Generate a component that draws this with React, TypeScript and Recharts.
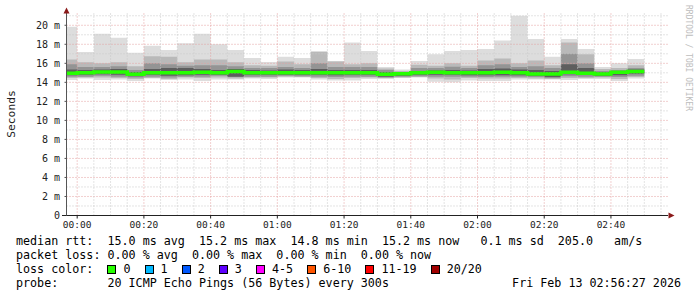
import React from 'react';
import { ComposedChart, Area, Line, XAxis, YAxis, ReferenceLine } from 'recharts';

// start of each 5 minute step (minutes after 00:00); the last entry only closes the last step
const stepMinutes = [-5, 0, 5, 10, 15, 20, 25, 30, 35, 40, 45, 50, 55, 60, 65, 70, 75, 80, 85, 90, 95, 100, 105, 110, 115, 120, 125, 130, 135, 140, 145, 150, 155, 160, 165, 170];

// rtt in ms, one value per step
const medianRtt = [14.95, 15.0, 15.1, 15.1, 14.85, 15.0, 15.0, 15.0, 15.05, 15.0, 15.15, 15.0, 15.0, 15.0, 15.0, 15.0, 15.0, 15.0, 15.0, 14.85, 14.9, 15.0, 15.05, 15.0, 15.0, 15.0, 15.05, 15.0, 14.87, 14.87, 15.05, 14.95, 14.87, 15.05, 15.15];
const maxRtt = [19.85, 17.2, 19.1, 18.7, 17.1, 17.85, 17.4, 18.1, 19.1, 18.0, 17.4, 16.55, 16.15, 16.7, 16.55, 17.3, 16.25, 18.2, 17.3, 15.6, 15.35, 16.25, 16.95, 17.3, 17.4, 17.5, 18.4, 21.0, 18.55, 16.7, 18.55, 17.5, 15.6, 16.0, 16.45];
const minRtt = [14.25, 14.4, 14.25, 14.3, 14.15, 14.4, 14.25, 14.3, 14.15, 14.3, 14.3, 14.4, 14.35, 14.5, 14.5, 14.3, 14.2, 14.2, 14.35, 14.35, 14.45, 14.5, 14.05, 14.0, 14.2, 14.15, 14.15, 14.3, 14.3, 14.3, 14.25, 14.35, 14.35, 14.15, 14.4];
// inner smoke bands, outer to inner
const upper2 = [16.4, 16.1, 16.0, 16.1, 15.7, 16.75, 16.7, 16.1, 16.4, 16.4, 16.1, 15.8, 15.75, 16.2, 15.9, 17.2, 16.2, 15.9, 16.0, 15.45, 15.2, 15.85, 15.75, 16.0, 15.75, 16.3, 16.5, 16.0, 16.3, 15.8, 18.2, 16.95, 15.4, 15.5, 15.8];
const lower2 = [14.45, 14.5, 14.5, 14.45, 14.35, 14.45, 14.35, 14.5, 14.45, 14.5, 14.4, 14.5, 14.5, 14.6, 14.55, 14.45, 14.35, 14.45, 14.5, 14.45, 14.5, 14.55, 14.4, 14.3, 14.45, 14.4, 14.4, 14.45, 14.4, 14.35, 14.45, 14.45, 14.5, 14.35, 14.55];
const upper3 = [15.9, 15.6, 15.6, 15.7, 15.3, 16.0, 15.9, 15.75, 15.8, 15.8, 15.7, 15.5, 15.5, 15.6, 15.5, 16.0, 15.6, 15.6, 15.6, 15.3, 15.05, 15.5, 15.5, 15.65, 15.5, 15.8, 15.9, 15.6, 15.7, 15.5, 17.0, 16.0, 15.2, 15.3, 15.5];
const lower3 = [14.6, 14.6, 14.7, 14.6, 14.5, 14.6, 14.5, 14.6, 14.6, 14.7, 14.6, 14.6, 14.6, 14.7, 14.65, 14.6, 14.55, 14.6, 14.6, 14.5, 14.6, 14.65, 14.6, 14.6, 14.6, 14.55, 14.6, 14.6, 14.55, 14.45, 14.65, 14.6, 14.6, 14.55, 14.7];
const upper4 = [15.35, 15.3, 15.35, 15.4, 15.1, 15.4, 15.5, 15.5, 15.4, 15.3, 15.4, 15.3, 15.25, 15.35, 15.3, 15.4, 15.3, 15.3, 15.3, 15.1, 15.0, 15.2, 15.25, 15.3, 15.25, 15.4, 15.45, 15.35, 15.3, 15.2, 15.9, 15.5, 15.05, 15.2, 15.35];
const lower4 = [14.75, 14.8, 14.85, 14.8, 14.65, 14.8, 14.7, 14.75, 14.8, 14.8, 14.6, 14.8, 14.8, 14.8, 14.8, 14.8, 14.75, 14.8, 14.8, 14.6, 14.7, 14.8, 14.8, 14.8, 14.75, 14.75, 14.75, 14.75, 14.7, 14.55, 14.85, 14.8, 14.7, 14.75, 14.9];

const xTickMinutes = [0, 20, 40, 60, 80, 100, 120, 140, 160];
const xTickLabels = ['00:00', '00:20', '00:40', '01:00', '01:20', '01:40', '02:00', '02:20', '02:40'];
const yTickValues = [0, 2, 4, 6, 8, 10, 12, 14, 16, 18, 20];
const yTickLabels = ['0', '2 m', '4 m', '6 m', '8 m', '10 m', '12 m', '14 m', '16 m', '18 m', '20 m'];

const statsLine = 'median rtt:  15.0 ms avg  15.2 ms max  14.8 ms min  15.2 ms now   0.1 ms sd  205.0   am/s';
const lossLine = 'packet loss: 0.00 % avg  0.00 % max  0.00 % min  0.00 % now';
const lossLabels = ['0', '1', '2', '3', '4-5', '6-10', '11-19', '20/20'];
const lossColors = ['#26ff00', '#00b8ff', '#0059ff', '#5e00ff', '#ff00ff', '#ff5500', '#ff0000', '#a10000'];
const probeLine = 'probe:       20 ICMP Echo Pings (56 Bytes) every 300s';
const stampText = 'Fri Feb 13 02:56:27 2026';

const rows = stepMinutes.map((t, i) => {
  const k = Math.min(i, medianRtt.length - 1);
  return {
    t,
    median: medianRtt[k],
    outer: [minRtt[k], maxRtt[k]],
    band2: [lower2[k], upper2[k]],
    band3: [lower3[k], upper3[k]],
    band4: [lower4[k], upper4[k]],
  };
});

const mono = '"DejaVu Sans Mono", monospace';
const minorGridX = Array.from({ length: 36 }, (_, i) => i * 5).filter((m) => m % 20 !== 0);
const minorGridY = Array.from({ length: 11 }, (_, i) => i * 2 + 1);
const majorGridY = yTickValues.filter((v) => v > 0);

export default function App() {
  return (
    <div style={{ position: 'absolute', left: 0, top: 0, width: 697, height: 297, background: '#fff' }}>
      <ComposedChart
        width={697}
        height={240}
        data={rows}
        margin={{ top: 13, right: 29, bottom: 4.5, left: 6.5 }}
      >
        <XAxis
          dataKey="t"
          type="number"
          domain={[-3.2, 177.1]}
          allowDataOverflow
          ticks={xTickMinutes}
          tickFormatter={(v) => xTickLabels[xTickMinutes.indexOf(v)] ?? ''}
          height={20}
          tickSize={3}
          tickMargin={3}
          axisLine={{ stroke: '#222' }}
          tickLine={{ stroke: '#222' }}
          tick={{ fontFamily: mono, fontSize: 9.5, fill: '#222' }}
        />
        <YAxis
          type="number"
          domain={[0, 21.29]}
          allowDataOverflow
          ticks={yTickValues}
          tickFormatter={(v) => yTickLabels[yTickValues.indexOf(v)] ?? ''}
          width={60}
          tickSize={2}
          tickMargin={4.5}
          axisLine={{ stroke: '#555' }}
          tickLine={{ stroke: '#555' }}
          tick={{ fontFamily: mono, fontSize: 10, fill: '#222' }}
        />
        <Area type="stepAfter" dataKey="outer" fill="#dddddd" fillOpacity={1} stroke="none" dot={false} activeDot={false} isAnimationActive={false} />
        <Area type="stepAfter" dataKey="band2" fill="#b9b9b9" fillOpacity={1} stroke="none" dot={false} activeDot={false} isAnimationActive={false} />
        <Area type="stepAfter" dataKey="band3" fill="#949494" fillOpacity={1} stroke="none" dot={false} activeDot={false} isAnimationActive={false} />
        <Area type="stepAfter" dataKey="band4" fill="#5e5e5e" fillOpacity={1} stroke="none" dot={false} activeDot={false} isAnimationActive={false} />
        {minorGridY.map((v) => (
          <ReferenceLine key={`my${v}`} y={v} stroke="#c8c8c8" strokeDasharray="1 2" />
        ))}
        {majorGridY.map((v) => (
          <ReferenceLine key={`My${v}`} y={v} stroke="#e4a0a0" strokeDasharray="1 2" />
        ))}
        {minorGridX.map((v) => (
          <ReferenceLine key={`mx${v}`} x={v} stroke="#c8c8c8" strokeDasharray="1 2" />
        ))}
        {xTickMinutes.map((v) => (
          <ReferenceLine key={`Mx${v}`} x={v} stroke="#e4a0a0" strokeDasharray="1 2" />
        ))}
        <Line type="stepAfter" dataKey="median" stroke="#26ff00" strokeWidth={3.5} dot={false} activeDot={false} isAnimationActive={false} />
      </ComposedChart>

      <svg width={697} height={297} style={{ position: 'absolute', left: 0, top: 0, pointerEvents: 'none' }}>
        <line x1={62} y1={215.5} x2={66.5} y2={215.5} stroke="#222" />
        <polygon points="63.5,13.5 69.5,13.5 66.5,7.5" fill="#8b1a1a" />
        <polygon points="668.5,212.5 668.5,218.5 674.5,215.5" fill="#8b1a1a" />
        <text
          transform="translate(15,114) rotate(-90)"
          textAnchor="middle"
          fontFamily={mono}
          fontSize={11.3}
          fill="#222"
        >
          Seconds
        </text>
        <text
          transform="translate(685.5,5) rotate(90)"
          fontFamily={mono}
          fontSize={8}
          fill="#bdbdbd"
        >
          RRDTOOL / TOBI OETIKER
        </text>
      </svg>

      <div
        style={{
          position: 'absolute',
          left: 16,
          top: 234,
          width: 665,
          fontFamily: mono,
          fontSize: 11.7,
          lineHeight: '14px',
          whiteSpace: 'pre',
          color: '#000',
        }}
      >
        <div>{statsLine}</div>
        <div>{lossLine}</div>
        <div style={{ display: 'flex', alignItems: 'center' }}>
          <span>{'loss color:  '}</span>
          {lossLabels.map((label, i) => (
            <span key={label} style={{ display: 'inline-flex', alignItems: 'center' }}>
              <span
                style={{
                  display: 'inline-block',
                  width: 9,
                  height: 9,
                  boxSizing: 'border-box',
                  border: '1px solid #000',
                  background: lossColors[i],
                  marginRight: 7,
                }}
              />
              <span>{label + '  '}</span>
            </span>
          ))}
        </div>
        <div style={{ display: 'flex', justifyContent: 'space-between' }}>
          <span>{probeLine}</span>
          <span>{stampText}</span>
        </div>
      </div>
    </div>
  );
}
